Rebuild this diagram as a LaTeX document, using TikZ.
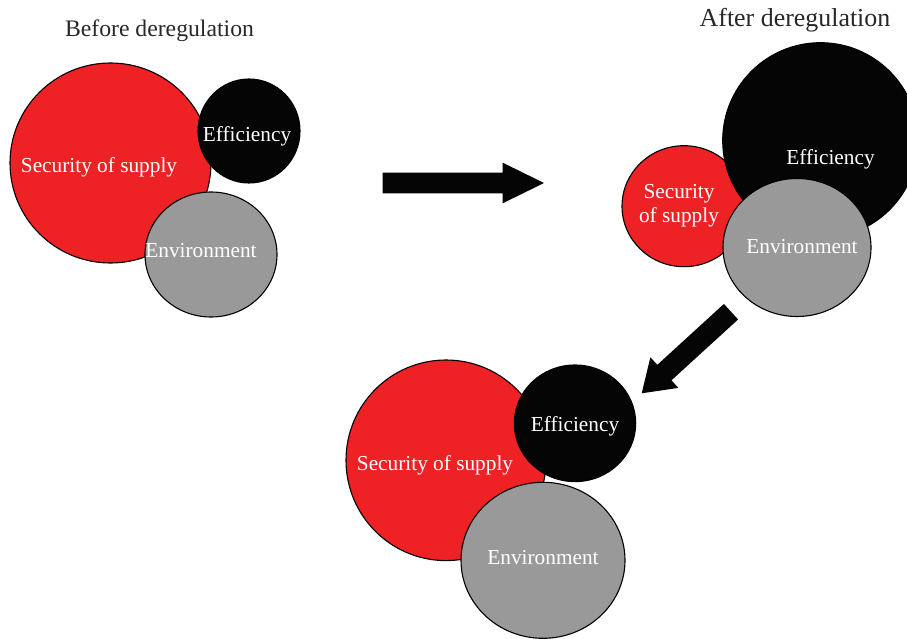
\documentclass[tikz,border=0pt]{standalone}
\usepackage{fontspec}
\setmainfont{Liberation Serif}
\usetikzlibrary{shapes.geometric,calc}

\definecolor{supplyred}{RGB}{238,34,36}
\definecolor{effblack}{RGB}{5,5,5}
\definecolor{envgray}{RGB}{153,153,153}
\definecolor{titlegray}{RGB}{40,40,40}

% block arrow: #1 tail, #2 tip, #3 shaft half-width, #4 head half-width, #5 head length
\newcommand\blockarrow[5]{%
  \coordinate (#1-base) at ($(#2)!#5!(#1)$);
  \fill[effblack]
    ($(#1)!#3!90:(#2)$) -- ($(#1-base)!#3!90:(#2)$) -- ($(#1-base)!#4!90:(#2)$)
    -- (#2)
    -- ($(#1-base)!#4!-90:(#2)$) -- ($(#1-base)!#3!-90:(#2)$) -- ($(#1)!#3!-90:(#2)$)
    -- cycle;
}

\begin{document}
\begin{tikzpicture}[x=1pt,y=-1pt,
  disc/.style={ellipse,draw=black,line width=1.1pt,inner sep=0pt},
  lbl/.style={text=white,font=\fontsize{21.3}{24}\selectfont,inner sep=0pt},
  ttl/.style={text=titlegray,anchor=base,inner sep=0pt}]
\useasboundingbox (0,0) rectangle (907,639);
\clip (0,0) rectangle (907,639);

% before deregulation
\node[ttl,font=\fontsize{23.7}{28}\selectfont] (t-before) at (159.5,36.7) {Before deregulation};
\node[disc,fill=supplyred,minimum width=201pt,minimum height=200pt] (b-sec) at (110.5,163) {};
\node[disc,fill=effblack,minimum width=102pt,minimum height=104pt] (b-eff) at (249,131) {};
\node[disc,fill=envgray,minimum width=132pt,minimum height=125pt] (b-env) at (211,254.5) {};
\node[lbl,anchor=base] (b-sec-l) at (99,173) {Security of supply};
\node[lbl,anchor=base] (b-eff-l) at (247,142) {Efficiency};
\node[lbl,anchor=base] (b-env-l) at (201,257) {Environment};

% after deregulation
\node[ttl,font=\fontsize{25.9}{30}\selectfont] (t-after) at (795,26.7) {After deregulation};
\node[disc,fill=supplyred,minimum width=124pt,minimum height=121pt] (a-sec) at (684,206.2) {};
\node[disc,fill=effblack,minimum width=195.6pt,minimum height=195.6pt] (a-eff) at (820.5,140.5) {};
\node[disc,fill=envgray,minimum width=148pt,minimum height=138pt] (a-env) at (797,247.5) {};
\node[lbl,align=center] (a-sec-l) at (679,205.6) {Security\\of supply};
\node[lbl,anchor=base] (a-eff-l) at (830.5,165) {Efficiency};
\node[lbl,anchor=base] (a-env-l) at (802,253) {Environment};

% outcome
\node[disc,fill=supplyred,minimum width=200pt,minimum height=200.6pt] (c-sec) at (446,460.3) {};
\node[disc,fill=effblack,minimum width=121.4pt,minimum height=116.6pt] (c-eff) at (575,423.3) {};
\node[disc,fill=envgray,minimum width=164pt,minimum height=156pt] (c-env) at (543,560.3) {};
\node[lbl,anchor=base] (c-sec-l) at (435,470) {Security of supply};
\node[lbl,anchor=base] (c-eff-l) at (575,431.7) {Efficiency};
\node[lbl,anchor=base] (c-env-l) at (543,564) {Environment};

% transition arrows
\coordinate (s1) at (382.7,183);
\coordinate (h1) at (544,183);
\blockarrow{s1}{h1}{10.3pt}{20.3pt}{41.3pt}
\coordinate (s2) at (731,311.7);
\coordinate (h2) at (641.7,393.3);
\blockarrow{s2}{h2}{10.5pt}{20.75pt}{30.7pt}
\end{tikzpicture}
\end{document}
